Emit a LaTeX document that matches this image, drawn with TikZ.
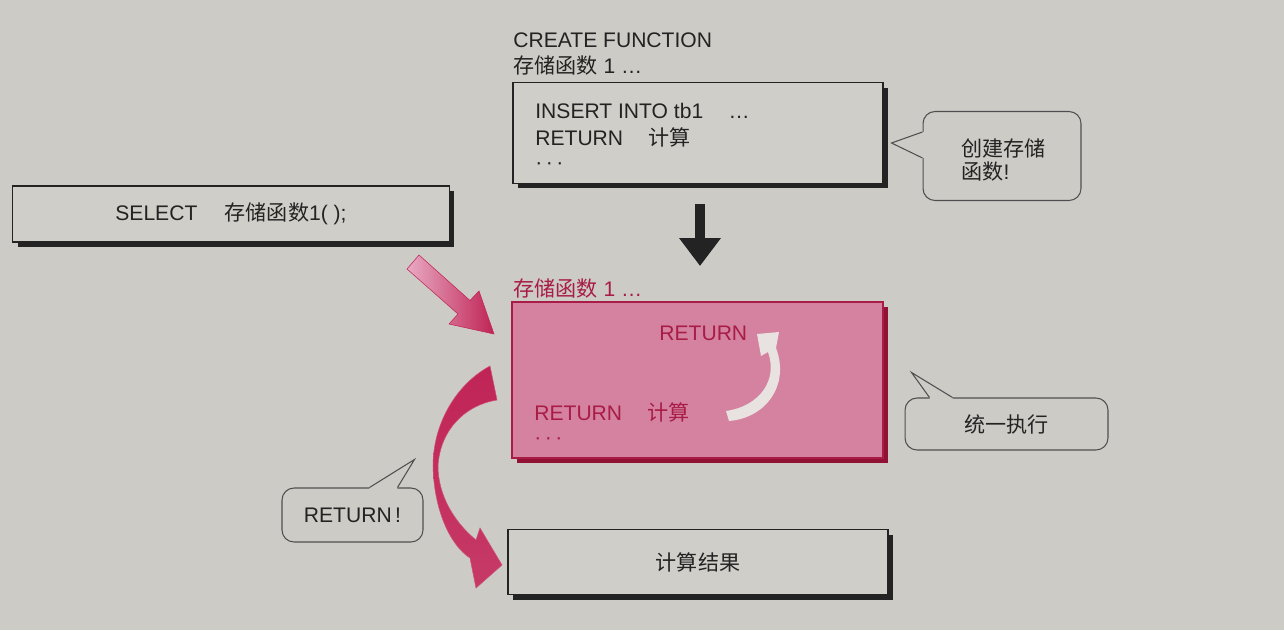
\documentclass[tikz,border=0pt]{standalone}
\usepackage{fontspec}
\setmainfont{Liberation Sans}
\newfontfamily\cjk{Noto Sans CJK SC}
\usetikzlibrary{arrows.meta,shadows,calc}

\definecolor{paper}{RGB}{204,203,198}
\definecolor{boxfill}{RGB}{207,206,201}
\definecolor{ink}{RGB}{35,35,35}
\definecolor{fnpink}{RGB}{212,130,160}
\definecolor{fnred}{RGB}{168,28,70}
\definecolor{fnshadow}{RGB}{145,18,52}
\definecolor{arrowlight}{RGB}{232,170,195}
\definecolor{arrowdark}{RGB}{192,36,86}
\definecolor{turnwhite}{RGB}{232,226,224}

\newcommand{\zh}[1]{{\cjk #1}}

\tikzset{
  codebox/.style={draw=ink, line width=0.8pt, fill=boxfill,
    drop shadow={shadow xshift=0.1cm, shadow yshift=-0.1cm, fill=ink, opacity=1}},
  fnbox/.style={draw=fnred, line width=0.8pt, fill=fnpink,
    drop shadow={shadow xshift=0.1cm, shadow yshift=-0.1cm, fill=fnshadow, opacity=1}},
  bubble/.style={draw=ink!80, line width=0.6pt, fill=paper, rounded corners=0.24cm},
  tail/.style={draw=ink!80, line width=0.6pt},
  label/.style={anchor=west, inner sep=0pt}
}

\begin{document}
\begin{tikzpicture}[x=0.02cm, y=-0.02cm,
  every node/.style={font=\fontsize{12}{15}\selectfont, text=ink}]

% Paper
\fill[paper] (0,0) rectangle (1284,630);
\useasboundingbox (0,0) rectangle (1284,630);

% Definition of the stored function
\node[label] (createlbl) at (513,40) {CREATE FUNCTION};
\node[label] (createname) at (513,65) {\zh{存储函数} 1 …};
\node[codebox, minimum width=7.4cm, minimum height=2.02cm] (create) at (698,133) {};
\node[label] (line1) at (535,111) {INSERT INTO tb1\hspace{1.2em}…};
\node[label] (line2) at (535,137) {RETURN\hspace{1.2em}\zh{计算}};
\node[label] (line3) at (535,166) {·\,·\,·};

% Bubble: create
\node[bubble, minimum width=3.16cm, minimum height=1.78cm] (note1) at (1002,156) {};
\node[label] (note1a) at (961,148) {\zh{创建存储}};
\node[label] (note1b) at (961,172) {\zh{函数}!};
\coordinate (n1a) at ($(note1.north west)+(0,21)$);
\coordinate (n1b) at ($(note1.north west)+(0,47)$);
\coordinate (n1tip) at ($(note1.north west)+(-31,32)$);
\fill[paper] (n1a) -- (n1tip) -- (n1b) -- ($(n1b)+(2,0)$) -- ($(n1a)+(2,0)$) -- cycle;
\draw[tail] (n1a) -- (n1tip) -- (n1b);

% Caller
\node[codebox, minimum width=8.74cm, minimum height=1.12cm] (select) at (231,214)
  {SELECT\hspace{1.3em}\zh{存储函数}1( );};

% Down arrow
\coordinate (dn1) at ($(create.south)+(2,20)$);
\coordinate (dn2) at (700,266);
\draw[ink, line width=0.19cm, -{Triangle[width=0.8cm,length=0.56cm]}] (dn1) -- (dn2);

% Stored function box
\node[label, text=fnred] (fnlbl) at (513,288) {\zh{存储函数} 1 …};
\node[fnbox, minimum width=7.42cm, minimum height=3.12cm] (fn) at (697.5,380) {};
\node[label, text=fnred] (ret1) at (659,333) {RETURN};
\node[label, text=fnred] (ret2) at (534,412) {RETURN\hspace{1.2em}\zh{计算}};
\node[label, text=fnred] (dots) at (534,441) {·\,·\,·};

% Turn arrow inside
\fill[turnwhite] (729,421) .. controls (766,418) and (790,385) .. (776,348)
  -- (779,332) -- (757,334) -- (761,356) -- (768,352)
  .. controls (778,380) and (760,406) .. (726,411) -- cycle;

% Call arrow
\coordinate (call1) at (413,262);
\coordinate (call2) at (494,334);
\shade[left color=arrowlight, right color=arrowdark, draw=arrowdark, line width=0.3pt]
  (419,255) -- (470,300.5) -- (479,291) -- (call2) -- (449,324) -- (458,314) -- (407,269) -- cycle;

% Bubble: execute
\node[bubble, minimum width=4.06cm, minimum height=1.04cm] (note2) at (1006.5,424) {\zh{统一执行}};
\coordinate (n2a) at ($(note2.north west)+(25,0)$);
\coordinate (n2b) at ($(note2.north west)+(48,0)$);
\coordinate (n2tip) at ($(note2.north west)+(7,-25)$);
\fill[paper] (n2a) -- (n2tip) -- (n2b) -- ($(n2b)+(0,2)$) -- ($(n2a)+(0,2)$) -- cycle;
\draw[tail] (n2a) -- (n2tip) -- (n2b);

% Result
\node[codebox, minimum width=7.6cm, minimum height=1.3cm] (result) at (698,562) {\zh{计算结果}};

% Return arrow
\shade[top color=arrowdark, middle color=arrowlight, bottom color=arrowdark!90,
  draw=arrowdark!80, line width=0.3pt]
  (490,366) .. controls (455,385) and (433,425) .. (433,466)
  .. controls (434,510) and (450,545) .. (470,558)
  -- (476,588) -- (502,565) -- (480,528) -- (476,540)
  .. controls (454,522) and (438,495) .. (438,466)
  .. controls (440,430) and (465,405) .. (497,400) -- cycle;

% Bubble: return
\node[bubble, minimum width=2.82cm, minimum height=1.08cm] (note3) at (352.5,515) {RETURN\,!};
\coordinate (n3a) at ($(note3.north west)+(88,0)$);
\coordinate (n3b) at ($(note3.north west)+(116,0)$);
\coordinate (n3tip) at ($(note3.north west)+(133,-28)$);
\fill[paper] (n3a) -- (n3tip) -- (n3b) -- ($(n3b)+(0,2)$) -- ($(n3a)+(0,2)$) -- cycle;
\draw[tail] (n3a) -- (n3tip) -- (n3b);

\end{tikzpicture}
\end{document}
